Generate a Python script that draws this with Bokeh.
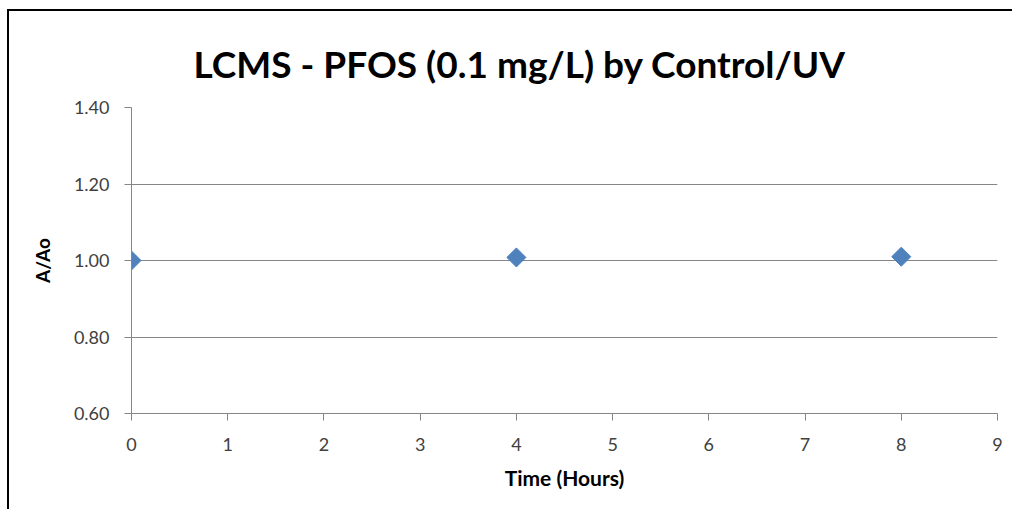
import numpy as np
from bokeh.plotting import figure
from bokeh.models import Range1d, FixedTicker, PrintfTickFormatter
from bokeh.embed import file_html
from bokeh.resources import INLINE

# data
time_hours = [0, 4, 8]
a_over_ao = [1.000, 1.008, 1.010]

x_ticks = [0, 1, 2, 3, 4, 5, 6, 7, 8, 9]
y_ticks = [0.6, 0.8, 1.0, 1.2, 1.4]

title_text = "LCMS - PFOS (0.1 mg/L) by Control/UV"
x_label = "Time (Hours)"
y_label = "A/Ao"

FONT = "Lato"
GRID = "#868686"
TEXT = "#404040"

p = figure(width=1005, height=500, output_backend="svg", toolbar_location=None,
           x_range=Range1d(0, 9), y_range=Range1d(0.6, 1.4),
           min_border_left=122, min_border_right=17,
           min_border_top=96, min_border_bottom=98)
p.styles = {"border-left": "2px solid black", "border-top": "2px solid black",
            "margin-top": "9px", "margin-left": "7px"}

p.background_fill_color = "white"
p.border_fill_color = "white"
p.outline_line_color = None

p.title.text = title_text
p.title.text_font = FONT
p.title.text_font_style = "bold"
p.title.text_font_size = "37px"
p.title.text_color = "black"
p.title.text_line_height = 0.8
p.title.align = "left"
p.title.offset = 62
p.title.standoff = 44

p.xgrid.grid_line_color = None
p.ygrid.grid_line_color = GRID
p.ygrid.grid_line_width = 1

p.xaxis.ticker = FixedTicker(ticks=x_ticks)
p.yaxis.ticker = FixedTicker(ticks=y_ticks)
p.yaxis.formatter = PrintfTickFormatter(format="%.2f")

for ax in (p.xaxis, p.yaxis):
    ax.axis_line_color = GRID
    ax.major_tick_line_color = GRID
    ax.major_tick_out = 7
    ax.major_tick_in = 0
    ax.minor_tick_line_color = None
    ax.major_label_text_font = FONT
    ax.major_label_text_font_size = "18px"
    ax.major_label_text_color = TEXT
    ax.axis_label_text_font = FONT
    ax.axis_label_text_font_style = "bold"
    ax.axis_label_text_color = "black"

p.xaxis.axis_label = x_label
p.yaxis.axis_label = y_label
p.xaxis.axis_label_text_font_size = "21px"
p.yaxis.axis_label_text_font_size = "19px"
p.xaxis.major_label_standoff = 17
p.yaxis.major_label_standoff = 15
p.xaxis.axis_label_standoff = 11
p.yaxis.axis_label_standoff = 17

p.scatter(time_hours, a_over_ao, marker="square", size=13.5, angle=np.pi / 4,
          fill_color="#4F81BD", line_color="#4F81BD")

open("out.html", "w").write(file_html(p, INLINE))
